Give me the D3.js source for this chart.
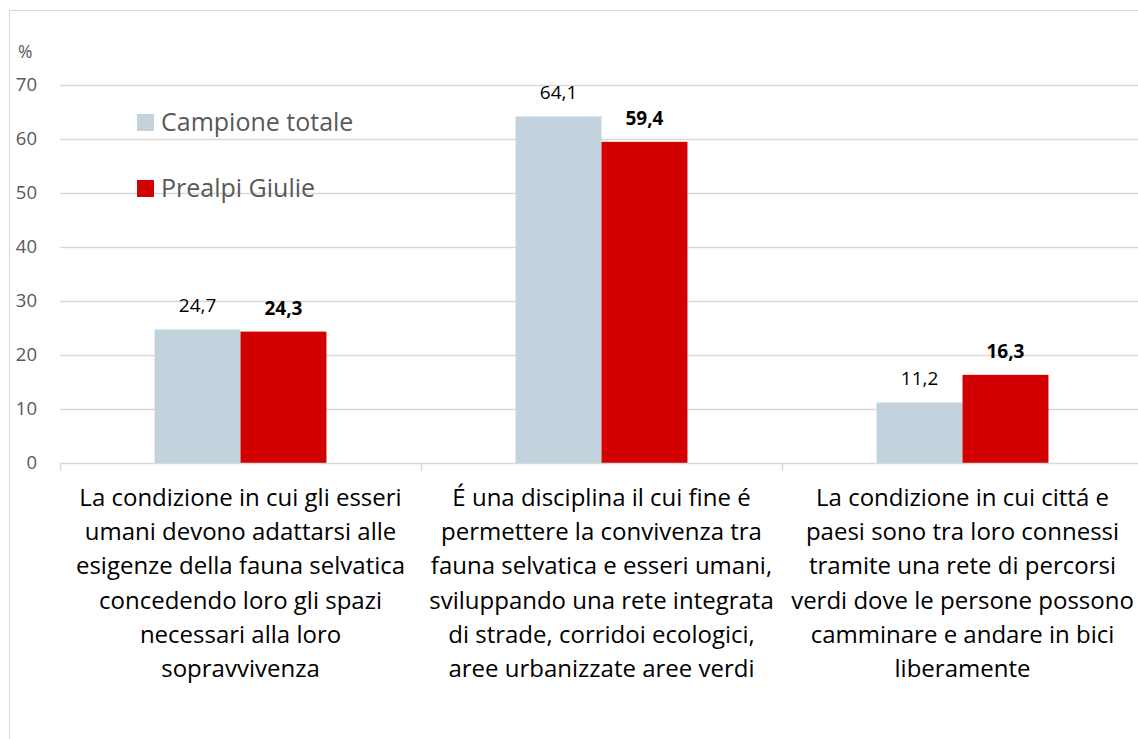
<!DOCTYPE html>
<html><head><meta charset="utf-8">
<script src="https://cdn.jsdelivr.net/npm/d3@7"></script>
<style>body{margin:0;background:#fff}svg{display:block}</style>
</head><body>
<svg id="c" width="1138" height="739"></svg>
<script>
const categories = [
  ["La condizione in cui gli esseri","umani devono adattarsi alle","esigenze della fauna selvatica","concedendo loro gli spazi","necessari alla loro","sopravvivenza"],
  ["É una disciplina il cui fine é","permettere la convivenza tra","fauna selvatica e esseri umani,","sviluppando una rete integrata","di strade, corridoi ecologici,","aree urbanizzate aree verdi"],
  ["La condizione in cui cittá e","paesi sono tra loro connessi","tramite una rete di percorsi","verdi dove le persone possono","camminare e andare in bici","liberamente"]
];
const seriesNames = ["Campione totale","Prealpi Giulie"];
const campioneTotale = [24.7, 64.1, 11.2];
const prealpiGiulie = [24.3, 59.4, 16.3];
const yTicks = [0,10,20,30,40,50,60,70];
const colors = ["#c3d3de","#d20000"];

const svg = d3.select("#c");
const font = "'Open Sans', sans-serif";
svg.append("rect").attr("x",9.5).attr("y",10.5).attr("width",1140).attr("height",740)
  .attr("fill","none").attr("stroke","#d9d9d9");

const x0 = d3.scaleBand().domain([0,1,2]).range([60,1143]).paddingInner(0).paddingOuter(0);
const x1 = d3.scaleBand().domain([0,1]).range([0,x0.bandwidth()]).paddingInner(0).paddingOuter(1.1);
const y = d3.scaleLinear().domain([0,70]).range([463,84.5]);

// gridlines
svg.append("g").selectAll("line").data(yTicks.filter(d=>d>0)).join("line")
  .attr("x1",60).attr("x2",1143).attr("y1",d=>Math.round(y(d))+0.5).attr("y2",d=>Math.round(y(d))+0.5)
  .attr("stroke","#d9d9d9").attr("stroke-width",1.5);

// y axis labels
const yAxis = d3.axisLeft(y).tickValues(yTicks).tickSize(0).tickPadding(0);
const gy = svg.append("g").attr("transform","translate(37,0)").call(yAxis);
gy.select(".domain").remove();
gy.selectAll("text").attr("font-family",font).attr("font-size",18.5).attr("fill","#595959");
svg.append("text").attr("x",18).attr("y",58).text("%").attr("font-family",font).attr("font-size",17.5).attr("fill","#595959");

const data = [campioneTotale, prealpiGiulie];
data.forEach((vals,si)=>{
  const g = svg.append("g");
  g.selectAll("rect").data(vals).join("rect")
    .attr("x",(d,i)=>x0(i)+x1(si)).attr("width",x1.bandwidth())
    .attr("y",d=>y(d)).attr("height",d=>y(0)-y(d)).attr("fill",colors[si]);
  g.selectAll("text").data(vals).join("text")
    .attr("x",(d,i)=>x0(i)+x1(si)+x1.bandwidth()/2).attr("y",d=>y(d)-17)
    .attr("text-anchor","middle").attr("font-family",font).attr("font-size",19)
    .attr("font-weight",si===1?"bold":"normal").attr("fill","#000")
    .text(d=>d.toFixed(1).replace(".",","));
});

// x axis baseline and dividers
svg.append("line").attr("x1",60).attr("x2",1143).attr("y1",463.5).attr("y2",463.5).attr("stroke","#d9d9d9").attr("stroke-width",1.5);
svg.append("g").selectAll("line").data([0,1,2,3]).join("line")
  .attr("x1",d=>60+d*x0.step()+0.5).attr("x2",d=>60+d*x0.step()+0.5)
  .attr("y1",463).attr("y2",471).attr("stroke","#d9d9d9").attr("stroke-width",1.5);

// category labels
categories.forEach((lines,i)=>{
  const t = svg.append("text").attr("text-anchor","middle").attr("font-family",font)
    .attr("font-size",24).attr("fill","#000");
  lines.forEach((ln,j)=>{
    t.append("tspan").attr("x",x0(i)+x0.bandwidth()/2).attr("y",506+j*34.2).text(ln);
  });
});

// legend
const lg = svg.append("g");
seriesNames.forEach((n,i)=>{
  lg.append("rect").attr("x",137).attr("y",114+i*66).attr("width",17).attr("height",17).attr("fill",colors[i]);
  lg.append("text").attr("x",161).attr("y",131+i*66).text(n).attr("font-family",font).attr("font-size",25).attr("fill","#595959");
});
</script>
</body></html>
